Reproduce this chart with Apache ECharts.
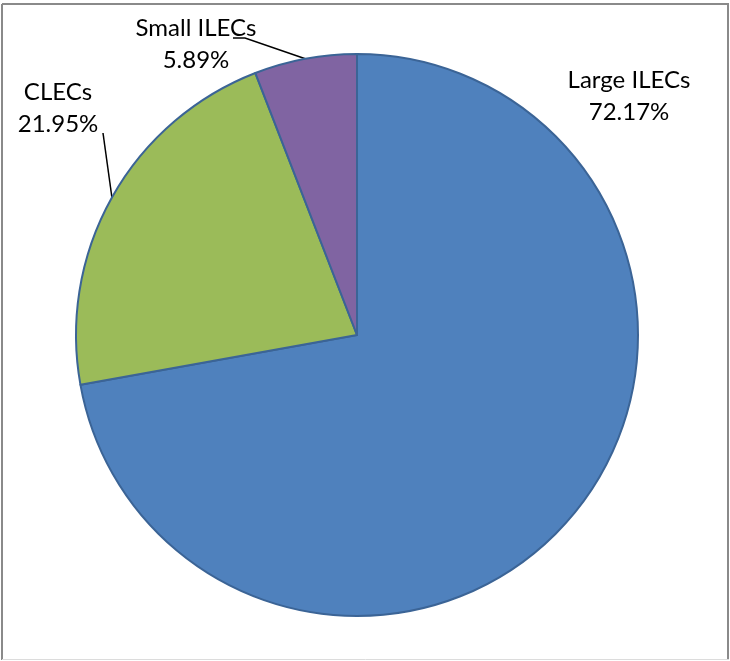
<!DOCTYPE html>
<html>
<head>
<meta charset="utf-8">
<script src="https://cdn.jsdelivr.net/npm/echarts@6/dist/echarts.min.js"></script>
<style>
  html, body { margin: 0; padding: 0; background: #fff; }
  #chart { width: 730px; height: 661px; }
</style>
</head>
<body>
<div id="chart"></div>
<script>
// Share of lines by carrier type
const categories = ['Large ILECs', 'CLECs', 'Small ILECs'];
const shares = [72.17, 21.95, 5.89];
const colors = ['#4F81BD', '#9BBB59', '#8064A2'];

// Label anchor points (text block centre) for each slice
const labelAnchors = {
  'Large ILECs': [629, 96],
  'CLECs': [58, 108],
  'Small ILECs': [196, 44]
};

const chart = echarts.init(document.getElementById('chart'), null, { renderer: 'canvas' });

const data = categories.map((name, i) => ({
  name,
  value: shares[i],
  itemStyle: { color: colors[i] },
  labelLine: { show: name !== 'Large ILECs' }
}));

chart.setOption({
  animation: false,
  backgroundColor: '#fff',
  graphic: [
    { type: 'line', shape: { x1: 2, y1: 4, x2: 729, y2: 4 }, style: { stroke: '#8a8a8a', lineWidth: 2 } },
    { type: 'line', shape: { x1: 2, y1: 4, x2: 2, y2: 660 }, style: { stroke: '#8a8a8a', lineWidth: 2 } },
    { type: 'line', shape: { x1: 728, y1: 4, x2: 728, y2: 660 }, style: { stroke: '#8a8a8a', lineWidth: 2 } },
    { type: 'line', shape: { x1: 2, y1: 659.5, x2: 729, y2: 659.5 }, style: { stroke: '#dcdcdc', lineWidth: 1 } }
  ],
  series: [{
    type: 'pie',
    center: [357, 335],
    radius: 281,
    startAngle: 90,
    clockwise: true,
    data,
    itemStyle: { borderColor: '#3B6496', borderWidth: 2 },
    label: {
      show: true,
      position: 'outside',
      overflow: 'none',
      formatter: p => p.name + '\n' + p.value.toFixed(2) + '%',
      fontFamily: 'Lato',
      fontSize: 24,
      lineHeight: 32,
      color: '#000',
      align: 'center'
    },
    labelLine: {
      show: true,
      lineStyle: { color: '#000', width: 1.5 }
    },
    labelLayout: function (params) {
      const name = categories[params.dataIndex];
      const a = labelAnchors[name];
      const out = { x: a[0], y: a[1], align: 'center', verticalAlign: 'middle' };
      const edge = params.labelLinePoints && params.labelLinePoints[0];
      if (edge && name === 'Small ILECs') {
        out.labelLinePoints = [edge, [245, 38], [233, 38]];
      } else if (edge && name === 'CLECs') {
        out.labelLinePoints = [edge, [103, 133], [103, 133]];
      }
      return out;
    },
    emphasis: { disabled: true }
  }]
});
</script>
</body>
</html>
